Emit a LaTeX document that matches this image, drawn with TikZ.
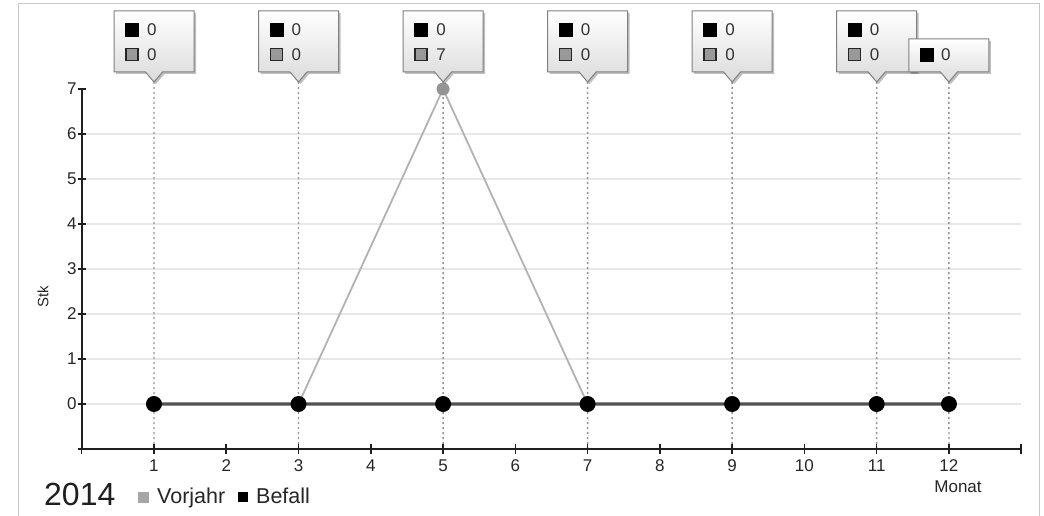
\documentclass[tikz,border=0pt]{standalone}
\usepackage{fontspec}
\setmainfont{Liberation Sans}
\usetikzlibrary{shadows}
\tikzset{
  frame/.style={draw=black!22, line width=1pt},
  grid/.style={draw=black!9, line width=1.8pt},
  guide/.style={draw=black!42, line width=1.4pt, dash pattern=on 2pt off 3pt},
  axis/.style={draw=black!88, line width=2pt},
  tickmark/.style={draw=black!88, line width=1.5pt},
  ticklab/.style={font=\fontsize{17}{17}\selectfont, text=black!85, inner sep=0pt},
  vline/.style={draw=black!30, line width=1.8pt, line join=round},
  bshadow/.style={draw=black!45, line width=4.5pt},
  bline/.style={draw=black!68, line width=2.2pt},
  bdot/.style={circle, fill=black, inner sep=0pt, minimum size=16pt},
  vdot/.style={circle, fill=black!42, inner sep=0pt, minimum size=13pt},
  tipbox/.style={draw=black!50, line width=1pt, top color=white, bottom color=black!14,
    drop shadow={shadow xshift=2pt, shadow yshift=-2pt, opacity=0.25, fill=black}},
  bsq/.style={draw=black, fill=black, minimum size=13pt, inner sep=0pt},
  gsq/.style={draw=black!85, fill=black!40, line width=1.3pt, minimum size=12pt, inner sep=0pt},
  tiptext/.style={font=\fontsize{17}{17}\selectfont, text=black!80, inner sep=0pt, anchor=west},
  legtext/.style={font=\fontsize{21.5}{21.5}\selectfont, text=black!85, inner sep=0pt, anchor=base west},
}
% tooltip outline: #1 centre x, #2 top y, #3 name of its tip
\newcommand\tipshape[3]{%
  \path[tipbox] ({#1-40},#2) -- ({#1+40},#2) -- ({#1+40},72) -- ({#1+8.5},72)
    -- (#1,82) -- ({#1-8.5},72) -- ({#1-40},72) -- cycle;
  \coordinate (#3) at (#1,82);}
% two-row tooltip: #1 centre x, #2 name, #3 black value, #4 grey value
\newcommand\tiptwo[4]{%
  \tipshape{#1}{11}{#2tip}
  \node[bsq] (#2sa) at ({#1-40+18},29.5) {};
  \node[tiptext] (#2ta) at ({#1-40+33},29.5) {#3};
  \node[gsq] (#2sb) at ({#1-40+18},54.5) {};
  \node[tiptext] (#2tb) at ({#1-40+33},54.5) {#4};}
% one-row tooltip
\newcommand\tipone[3]{%
  \tipshape{#1}{39}{#2tip}
  \node[bsq] (#2sa) at ({#1-40+18},55) {};
  \node[tiptext] (#2ta) at ({#1-40+32},55) {#3};}
\begin{document}
\begin{tikzpicture}[x=1pt,y=-1pt]
\useasboundingbox (0,0) rectangle (1044,516);
% outer frame
\coordinate (fbl) at (18,520);
\coordinate (ftl) at (18,4);
\coordinate (ftr) at (1039,4);
\coordinate (fbr) at (1039,520);
\draw[frame] (fbl) -- (ftl) -- (ftr) -- (fbr);

\begin{scope}[shift={(81.7,404)}, x=72.27pt, y=45pt]
  % grid
  \foreach \v in {0,...,6} {
    \coordinate (gl\v) at (0,\v);
    \coordinate (gr\v) at (13,\v);
    \draw[grid] (gl\v) -- (gr\v);
  }
  % data coordinates
  \foreach \m in {1,3,5,7,9,11,12} {
    \coordinate (p\m) at (\m,0);
    \coordinate (a\m) at (\m,-1);
  }
  \coordinate (v5) at (5,7);
  \coordinate (o) at (0,-1);
  \coordinate (ytop) at (0,7);
  \coordinate (xend) at (13,-1);
\end{scope}

% dotted guides from tooltip tips to the axis
\foreach \m/\x in {1/154.0,3/298.5,5/443.1,7/587.6,9/732.1,11/876.7,12/948.9} {
  \coordinate (g\m) at (\x,82);
  \draw[guide] (g\m) -- (a\m);
}

% axes
\draw[axis] (ytop) -- (o) -- (xend);
\begin{scope}[shift={(81.7,404)}, x=72.27pt, y=45pt]
  \foreach \v in {-1,...,7}
    \draw[tickmark] (0,\v) +(-4pt,0pt) -- +(4.5pt,0pt);
  \foreach \v in {0,...,7}
    \node[ticklab, anchor=east] (yl\v) at ([xshift=-5pt]0,\v) {\v};
  \foreach \m in {0,...,13}
    \draw[tickmark] (\m,-1) +(0pt,-5pt) -- +(0pt,5pt);
  \foreach \m in {1,...,12}
    \node[ticklab] (xl\m) at ([yshift=-17pt]\m,-1) {\m};
\end{scope}

% Vorjahr series
\draw[vline] (p1) -- (p3) -- (v5) -- (p7) -- (p9) -- (p11) -- (p12);
\node[vdot] (vd5) at (v5) {};
% Befall series
\draw[bshadow] (p1) -- (p12);
\draw[bline] (p1) -- (p12);
\foreach \m in {1,3,5,7,9,11,12}
  \node[bdot] (b\m) at (p\m) {};

% tooltips
\tiptwo{154.0}{ta}{0}{0}
\tiptwo{298.5}{tb}{0}{0}
\tiptwo{443.1}{tc}{0}{7}
\tiptwo{587.6}{td}{0}{0}
\tiptwo{732.1}{te}{0}{0}
\tiptwo{876.7}{tf}{0}{0}
\tipone{948.9}{tg}{0}

% axis titles
\node[font=\fontsize{15}{15}\selectfont, text=black!85, rotate=90, inner sep=0pt] (stk) at (43,297) {Stk};
\node[ticklab] (monat) at (958,487) {Monat};

% legend
\node[font=\fontsize{32}{32}\selectfont, text=black!88, inner sep=0pt, anchor=base west] (year) at (44,505) {2014};
\node[fill=black!35, inner sep=0pt, minimum size=11pt] (lgv) at (143.5,497.5) {};
\node[legtext] (lv) at (157,503) {Vorjahr};
\node[fill=black, inner sep=0pt, minimum size=10pt] (lgb) at (243,497) {};
\node[legtext] (lb) at (256,503) {Befall};
\end{tikzpicture}
\end{document}
